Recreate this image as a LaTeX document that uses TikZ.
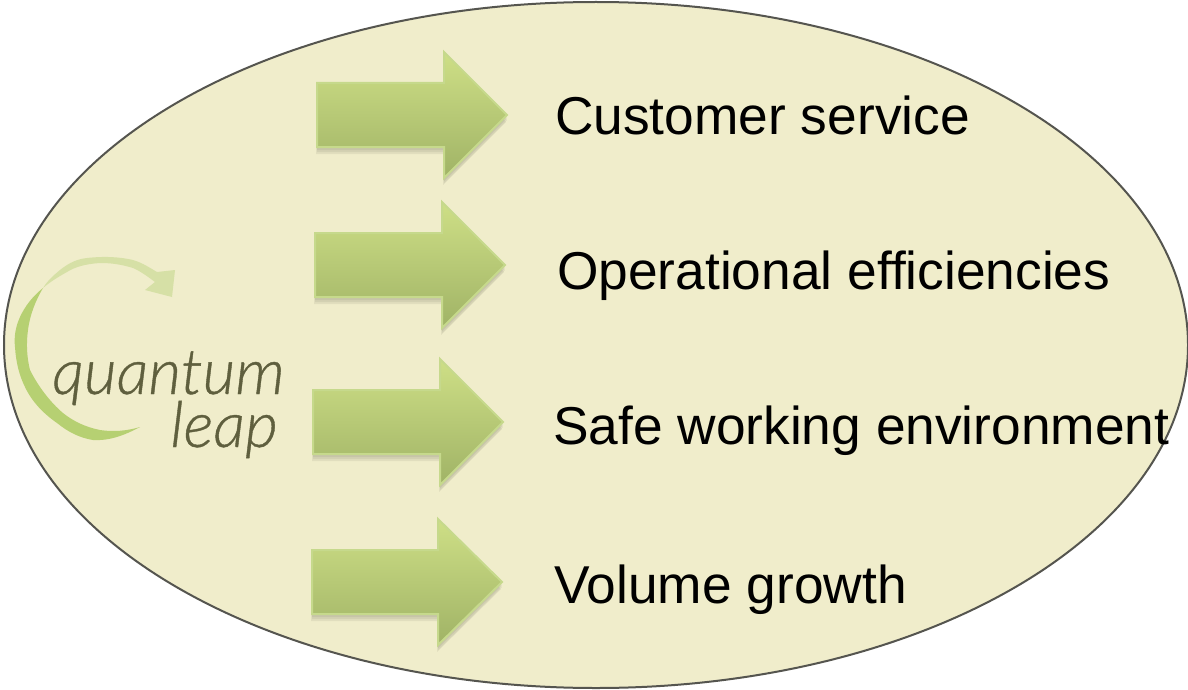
\documentclass[tikz,border=0pt]{standalone}
\usepackage{fontspec}
\setmainfont{Liberation Sans}
\newfontfamily\logofont{Lato Light}[ItalicFeatures={FakeBold=0.6}]
\definecolor{ovalfill}{HTML}{F0EDCB}
\definecolor{ovalline}{HTML}{55554F}
\definecolor{arrowtop}{HTML}{CEDF86}
\definecolor{arrowbot}{HTML}{A0B366}
\definecolor{arrowedge}{HTML}{C6D98C}
\definecolor{logotext}{HTML}{5F5F3E}
\definecolor{swooshA}{HTML}{D6E0A6}
\definecolor{swooshB}{HTML}{B6D072}
\usetikzlibrary{shapes.geometric}
\tikzset{
  x=1pt,y=-1pt,
  oval/.style={ellipse,draw=ovalline,line width=2pt,fill=ovalfill,minimum width=1184pt,minimum height=686pt,inner sep=0pt},
  label/.style={anchor=base west,font=\fontsize{53.3}{53.3}\selectfont,text=black,inner sep=0pt},
  logo/.style={anchor=base east,font=\logofont\itshape\fontsize{63.5}{63.5}\selectfont,text=logotext,inner sep=0pt},
  arrowbody/.style={top color=arrowtop,bottom color=arrowbot,draw=arrowedge,line width=2pt,line join=miter},
  arrowshadow/.style={fill=black!60!ovalfill,opacity=.10,draw=none},
}
\newcommand{\arrowoutline}[4]{(#1,#3-32)--(#2,#3-32)--(#2,#3-63)--(#4,#3)--(#2,#3+63)--(#2,#3+32)--(#1,#3+32)--cycle}
\newcommand{\bigarrow}[4]{% left x, head x, centre y, tip x
  \fill[arrowshadow,shift={(0,3)}] \arrowoutline{#1}{#2}{#3}{#4};
  \fill[arrowshadow,shift={(0,5)}] \arrowoutline{#1}{#2}{#3}{#4};
  \fill[arrowshadow,shift={(-1,7)}] \arrowoutline{#1}{#2}{#3}{#4};
  \path[arrowbody] \arrowoutline{#1}{#2}{#3}{#4};
}
\begin{document}
\begin{tikzpicture}
\useasboundingbox (0,0) rectangle (1188,690);
\fill[white] (0,0) rectangle (1188,690);
\node[oval] (oval) at (596,345) {};
\bigarrow{317}{444}{115}{507}
\bigarrow{315}{442}{265}{505}
\bigarrow{313}{440}{422}{503}
\bigarrow{312}{438}{582}{502}
\node[label] (t1) at (555,135) {Customer service};
\node[label] (t2) at (557,289) {Operational efficiencies};
\node[label] (t3) at (553,444) {Safe working environment};
\node[label] (t4) at (554,603) {Volume growth};
% swoosh, upper pale part with the arrow head
\fill[swooshA] (43,288) .. controls (48,280) and (54,275) .. (60,270)
  .. controls (70,262) and (78,259) .. (87,258)
  .. controls (105,256) and (120,257) .. (133,260)
  .. controls (143,263) and (150,268) .. (157,272)
  -- (175,270) -- (172,297) -- (145,290) -- (155,282)
  .. controls (147,276) and (140,271) .. (133,268)
  .. controls (120,264) and (110,263) .. (100,263)
  .. controls (85,264) and (75,267) .. (67,272)
  .. controls (58,277) and (50,282) .. (43,288) -- cycle;
% swoosh, lower strong crescent
\fill[swooshB] (43,288) .. controls (33,296) and (25,306) .. (20,317)
  .. controls (15,328) and (14,338) .. (15,347)
  .. controls (16,362) and (19,375) .. (25,387)
  .. controls (32,402) and (44,414) .. (57,423)
  .. controls (68,432) and (80,438) .. (93,440)
  .. controls (110,441) and (125,435) .. (140,427)
  .. controls (127,431) and (113,432) .. (100,430)
  .. controls (85,427) and (73,421) .. (63,413)
  .. controls (50,402) and (38,386) .. (30,370)
  .. controls (27,358) and (26,344) .. (28,330)
  .. controls (30,314) and (36,300) .. (43,288) -- cycle;
\node[logo] (q) at (285,394) {quantum};
\node[logo] (l) at (278,447) {leap};
\end{tikzpicture}
\end{document}
